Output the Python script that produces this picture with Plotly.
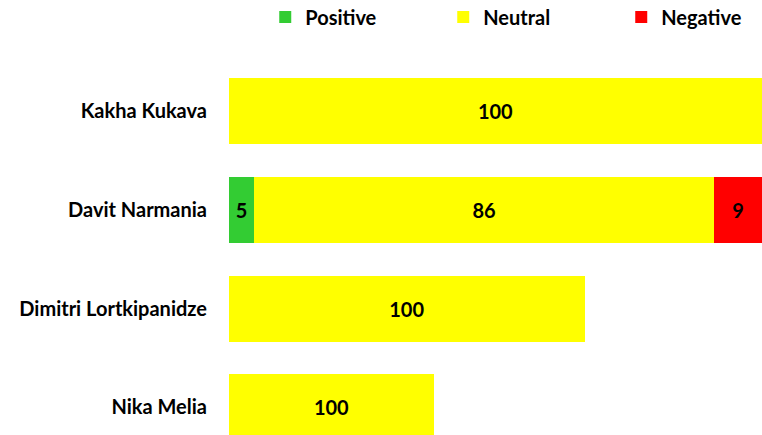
import plotly.graph_objects as go

# candidates, top to bottom
names = ["Kakha Kukava", "Davit Narmania", "Dimitri Lortkipanidze", "Nika Melia"]

# coverage volume per tone (bar length)
positive = [0, 24.4, 0, 0]
neutral = [520, 448.8, 347, 200]
negative = [0, 46.8, 0, 0]

series = [
    ("Positive", positive, "#33CC33"),
    ("Neutral", neutral, "#FFFF00"),
    ("Negative", negative, "#FF0000"),
]

totals = [p + n + g for p, n, g in zip(positive, neutral, negative)]

FONT = "Lato, 'Open Sans', sans-serif"

fig = go.Figure()
for label, vals, color in series:
    # percentage of each candidate's total, blank for empty segments
    txt = [f"{round(100 * v / t)}" if v > 0 else "" for v, t in zip(vals, totals)]
    fig.add_trace(go.Bar(
        name=label,
        y=names,
        x=vals,
        orientation="h",
        marker=dict(color=color, line=dict(width=0)),
        text=txt,
        textposition="inside",
        insidetextanchor="middle",
        textangle=0,
        constraintext="none",
        textfont=dict(color="black", size=20, family=FONT, weight="bold"),
        hoverinfo="skip",
    ))

fig.update_layout(
    barmode="stack",
    bargap=0.33,
    width=762,
    height=435,
    margin=dict(l=229, r=0, t=62, b=0, autoexpand=False),
    paper_bgcolor="white",
    plot_bgcolor="white",
    font=dict(family=FONT, size=20, color="black", weight="bold"),
    showlegend=True,
    legend=dict(
        orientation="h",
        x=0.068,
        xanchor="left",
        y=1.173,
        yanchor="top",
        entrywidth=133,
        entrywidthmode="pixels",
        itemsizing="constant",
        traceorder="normal",
        font=dict(size=20, family=FONT, weight="bold"),
    ),
)

fig.update_xaxes(visible=False, range=[0, max(totals)], fixedrange=True)
fig.update_yaxes(
    categoryorder="array",
    categoryarray=names,
    range=[3.28, -0.5],
    automargin=False,
    showgrid=False,
    showline=False,
    zeroline=False,
    ticks="",
    ticklabelstandoff=21,
    tickfont=dict(size=20, family=FONT, weight="bold"),
)

# drop the default 8px page margin so the figure fills the window
fig.write_html(
    "out.html",
    config={"displayModeBar": False, "staticPlot": True},
    post_script="document.body.style.margin='0';document.body.style.overflow='hidden';",
)
